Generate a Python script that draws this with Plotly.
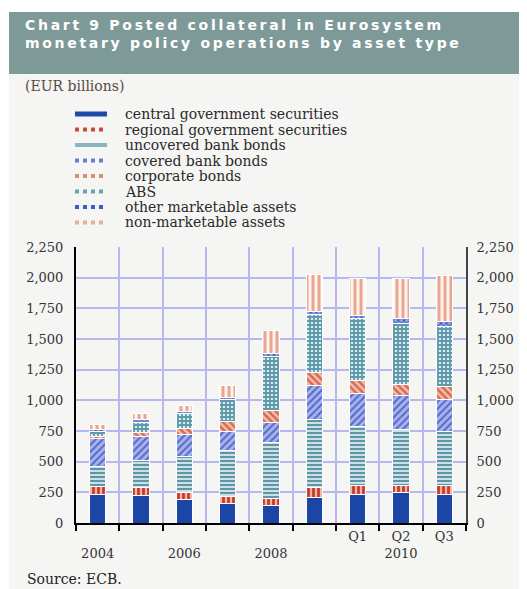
import plotly.graph_objects as go

categories = ["2004", "2005", "2006", "2007", "2008", "2009", "2010 Q1", "2010 Q2", "2010 Q3"]
tick_text = ["<br>2004", "", "<br>2006", "", "<br>2008", "", "Q1", "Q2<br>2010", "Q3"]

series_names = ["central government securities", "regional government securities",
                "uncovered bank bonds", "covered bank bonds", "corporate bonds",
                "ABS", "other marketable assets", "non-marketable assets"]

central = [235, 221, 191, 158, 139, 204, 234, 245, 234]
regional = [63, 68, 60, 54, 63, 82, 74, 63, 74]
uncovered = [162, 223, 294, 376, 452, 559, 482, 457, 435]
covered = [230, 191, 180, 159, 163, 272, 267, 273, 265]
corporate = [16, 38, 46, 78, 104, 114, 103, 89, 103]
abs_bonds = [41, 82, 123, 183, 435, 472, 504, 502, 490]
other_marketable = [19, 24, 19, 16, 22, 21, 25, 38, 41]
non_marketable = [41, 47, 43, 101, 188, 300, 308, 330, 373]

y_ticks = [0, 250, 500, 750, 1000, 1250, 1500, 1750, 2000, 2250]

series_values = [central, regional, uncovered, covered, corporate,
                 abs_bonds, other_marketable, non_marketable]

styles = [
    dict(shape="", fg="#1b46a6", bg="#1b46a6", size=6, sol=0.5),
    dict(shape="|", fg="#c9392b", bg="#f2b8a6", size=5, sol=0.55),
    dict(shape="-", fg="#5d97a7", bg="#d8e8ed", size=4, sol=0.55),
    dict(shape="/", fg="#5467cf", bg="#a8b3ea", size=5, sol=0.4),
    dict(shape="\\", fg="#d66a52", bg="#f3c0b0", size=5, sol=0.5),
    dict(shape="+", fg="#5f9aaa", bg="#dcecf0", size=4, sol=0.7),
    dict(shape="x", fg="#2c4fc0", bg="#8fa2e4", size=4, sol=0.4),
    dict(shape="|", fg="#e9a68f", bg="#fdf3ef", size=6, sol=0.5),
]

legend_lines = [
    dict(color="#1f48a8", dash="solid", width=5),
    dict(color="#c84a3a", dash="dot", width=4),
    dict(color="#8ab4c2", dash="solid", width=4),
    dict(color="#6a7cd6", dash="dot", width=4),
    dict(color="#de8a76", dash="dot", width=4),
    dict(color="#6fa0ad", dash="dot", width=4),
    dict(color="#3b5bc8", dash="dot", width=4),
    dict(color="#eab09c", dash="dot", width=4),
]

fig = go.Figure()
for name, vals, st in zip(series_names, series_values, styles):
    if st["shape"]:
        marker = dict(color=st["bg"], line=dict(color="white", width=1),
                      pattern=dict(shape=st["shape"], fgcolor=st["fg"], bgcolor=st["bg"],
                                   size=st["size"], solidity=st["sol"], fillmode="replace"))
    else:
        marker = dict(color=st["fg"], line=dict(color="white", width=1))
    fig.add_trace(go.Bar(x=categories, y=vals, name=name, marker=marker, showlegend=False))

# invisible trace to anchor right-hand axis
fig.add_trace(go.Scatter(x=categories, y=[None] * len(categories), yaxis="y2",
                         showlegend=False, hoverinfo="skip", mode="lines"))

OFF = 8  # page body margin
W, H = 527 - OFF, 589 - OFF
L, R, T, B = 76 - OFF, 61, 247 - OFF, 66
pw, ph = W - L - R, H - T - B

def px(x):
    return (x - OFF - L) / pw

def py(y):
    return (H - B - (y - OFF)) / ph

shapes = []
annotations = []
# page background and banner
shapes.append(dict(type="rect", xref="paper", yref="paper", x0=px(9), x1=px(530), y0=py(592), y1=py(74),
                   fillcolor="#f5f5f3", line=dict(width=0), layer="below"))
shapes.append(dict(type="rect", xref="paper", yref="paper", x0=px(9), x1=px(530), y0=py(74), y1=py(12),
                   fillcolor="#7e9a98", line=dict(width=0), layer="below"))
for txt, yy in [("Chart 9 Posted collateral in Eurosystem", 25),
                ("monetary policy operations by asset type", 43)]:
    annotations.append(dict(xref="paper", yref="paper", x=px(23), y=py(yy), xanchor="left", yanchor="middle",
                            text="<b><span style='letter-spacing:2.7px'>" + txt + "</span></b>",
                            showarrow=False, align="left",
                            font=dict(family="DejaVu Sans", size=14, color="white")))
annotations.append(dict(xref="paper", yref="paper", x=px(23), y=py(86), xanchor="left", yanchor="middle",
                        text="(EUR billions)", showarrow=False,
                        font=dict(family="DejaVu Serif", size=14, color="#5a4a40")))
annotations.append(dict(xref="paper", yref="paper", x=px(25), y=py(579), xanchor="left", yanchor="middle",
                        text="Source: ECB.", showarrow=False,
                        font=dict(family="DejaVu Serif", size=14, color="#222")))

# custom legend
for i, (name, ln) in enumerate(zip(series_names, legend_lines)):
    yy = 114 + i * 15.5
    shapes.append(dict(type="line", xref="paper", yref="paper", x0=px(75), x1=px(107), y0=py(yy), y1=py(yy),
                       line=ln))
    annotations.append(dict(xref="paper", yref="paper", x=px(123), y=py(yy), xanchor="left", yanchor="middle",
                            text=name, showarrow=False,
                            font=dict(family="DejaVu Serif", size=14, color="#2a2a2a")))

fig.update_layout(
    width=W, height=H,
    margin=dict(l=L, r=R, t=T, b=B, pad=0),
    barmode="stack", bargap=0.63,
    paper_bgcolor="white", plot_bgcolor="rgba(0,0,0,0)",
    font=dict(family="DejaVu Serif", size=13, color="#333"),
    showlegend=False,
    shapes=shapes, annotations=annotations,
    xaxis=dict(type="category", tickmode="array", tickvals=categories, ticktext=tick_text,
               tickson="boundaries", ticks="outside", ticklen=6, tickwidth=2, tickcolor="black",
               showgrid=True, gridcolor="#b8b8f0", gridwidth=1.5,
               showline=True, linecolor="black", linewidth=2,
               tickfont=dict(family="DejaVu Serif", size=13, color="#333")),
    yaxis=dict(range=[0, 2250], tickvals=y_ticks, tickformat=",d",
               showgrid=True, gridcolor="#b8b8f0", gridwidth=1.5,
               showline=True, linecolor="black", linewidth=2, zeroline=False,
               ticks="", ticklabelstandoff=8,
               tickfont=dict(family="DejaVu Serif", size=13, color="#333")),
    yaxis2=dict(range=[0, 2250], tickvals=y_ticks, tickformat=",d", overlaying="y", side="right",
                showgrid=False, showline=True, linecolor="#444", linewidth=2, zeroline=False,
                ticks="", ticklabelstandoff=6,
                tickfont=dict(family="DejaVu Serif", size=13, color="#333")),
)

fig.write_html("out.html")
